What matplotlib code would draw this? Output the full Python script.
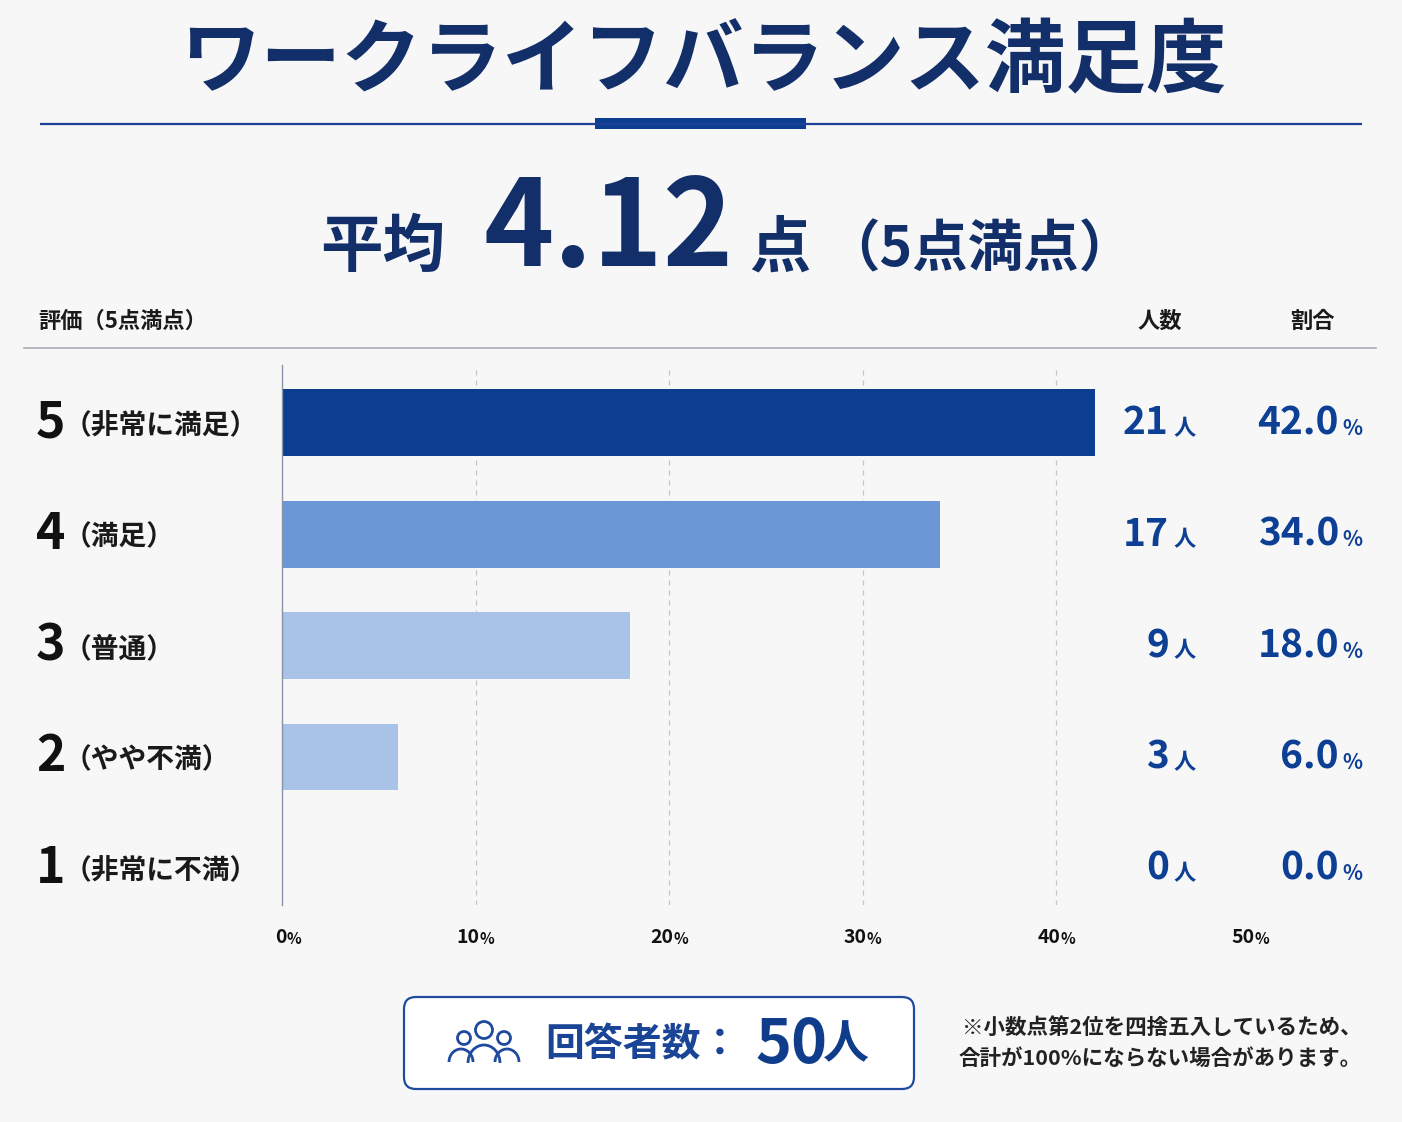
import matplotlib
matplotlib.use("Agg")
import matplotlib.pyplot as plt
from matplotlib.patches import FancyBboxPatch, Circle, Arc, Rectangle
from matplotlib.transforms import blended_transform_factory

plt.rcParams['font.family'] = ['Noto Sans CJK JP', 'DejaVu Sans']

# data
title = "ワークライフバランス満足度"
average = 4.12
scores = ["5", "4", "3", "2", "1"]
score_names = ["（非常に満足）", "（満足）", "（普通）", "（やや不満）", "（非常に不満）"]
counts = [21, 17, 9, 3, 0]
percents = [42.0, 34.0, 18.0, 6.0, 0.0]
x_ticks = [0, 10, 20, 30, 40, 50]
total = 50
note_lines = ["※小数点第2位を四捨五入しているため、", "合計が100%にならない場合があります。"]

# style
bg = '#f7f7f7'
navy = '#132f69'
blue = '#0d3f94'
bar_colors = ['#0b3d91', '#6b97d6', '#a9c2e8', '#a9c2e8', '#a9c2e8']

W, H = 1402, 1122
fig = plt.figure(figsize=(W / 100, H / 100), dpi=100, facecolor=bg)
renderer = fig.canvas.get_renderer()

# full figure layer in pixel coords
deco = fig.add_axes([0, 0, 1, 1], zorder=0)
deco.set_xlim(0, W)
deco.set_ylim(0, H)
deco.axis('off')
deco.patch.set_alpha(0)

def Y(py):
    return H - py

# title and underline
deco.text(W / 2 + 2, Y(62), title, ha='center', va='center', fontsize=58,
          fontweight='bold', color=navy)
deco.plot([40, 1362], [Y(124), Y(124)], color='#1f3f95', lw=1.6, solid_capstyle='butt')
deco.add_patch(Rectangle((595, Y(129)), 211, 11, color='#0b3d91', lw=0))

# average line, laid out piece by piece
pieces = [("平均", 45, 0), (f"{average:.2f}", 86, 38), ("点", 44, 16), ("（5点満点）", 40, 14)]
base = Y(266)
x = 320
for txt, size, gap in pieces:
    x += gap
    t = deco.text(x, base, txt, ha='left', va='baseline', fontsize=size,
                  fontweight='bold', color=navy)
    bb = t.get_window_extent(renderer)
    x += bb.width

# table header
deco.text(38, Y(321), "評価（5点満点）", ha='left', va='center', fontsize=16,
          fontweight='bold', color='#1a1a1a')
deco.text(1160, Y(321), "人数", ha='center', va='center', fontsize=16,
          fontweight='bold', color='#1a1a1a')
deco.text(1312, Y(321), "割合", ha='center', va='center', fontsize=16,
          fontweight='bold', color='#1a1a1a')
deco.plot([24, 1376], [Y(348), Y(348)], color='#a9adb8', lw=1.2)

# bar chart
ax_l, ax_r, ax_t, ax_b = 282, 1250, 365, 905
ax = fig.add_axes([ax_l / W, (H - ax_b) / H, (ax_r - ax_l) / W, (ax_b - ax_t) / H], zorder=1)
ax.patch.set_alpha(0)
idx = list(range(len(scores)))
ax.barh(idx, percents, height=0.6, color=bar_colors, zorder=2)
ax.set_xlim(0, 50)
ax.set_ylim(4.33, -0.52)
for t in x_ticks[1:-1]:
    ax.axvline(t, color='#c4c4c4', lw=0.9, ls=(0, (4, 4)), zorder=1)
for s in ['top', 'right', 'bottom']:
    ax.spines[s].set_visible(False)
ax.spines['left'].set_color('#8a93a8')
ax.spines['left'].set_linewidth(1.0)
ax.set_xticks([])
ax.set_yticks([])

# x tick labels with small percent sign
tr = blended_transform_factory(ax.transData, ax.transAxes)
for t in x_ticks:
    ax.annotate(str(t), (t, -0.061), xycoords=tr, xytext=(3, 0), textcoords='offset points',
                ha='right', va='center', fontsize=14, fontweight='bold', color='#111111')
    ax.annotate("%", (t, -0.061), xycoords=tr, xytext=(3, -1), textcoords='offset points',
                ha='left', va='center', fontsize=11, fontweight='bold', color='#111111')

# row labels, counts and shares
row_tr = blended_transform_factory(deco.transData, ax.transData)
for i in idx:
    deco.text(36, i, scores[i], transform=row_tr, ha='left', va='center', fontsize=36,
              fontweight='bold', color='#111111')
    deco.text(64, i + 0.03, score_names[i], transform=row_tr, ha='left', va='center',
              fontsize=20, fontweight='bold', color='#1a1a1a')
    deco.text(1169, i, str(counts[i]), transform=row_tr, ha='right', va='center',
              fontsize=28, fontweight='bold', color=blue)
    deco.text(1174, i + 0.05, "人", transform=row_tr, ha='left', va='center',
              fontsize=16, fontweight='bold', color=blue)
    deco.text(1339, i, f"{percents[i]:.1f}", transform=row_tr, ha='right', va='center',
              fontsize=28, fontweight='bold', color=blue)
    deco.text(1342, i + 0.05, "%", transform=row_tr, ha='left', va='center',
              fontsize=15, fontweight='bold', color=blue)

# respondents box
deco.add_patch(FancyBboxPatch((404, Y(1089)), 510, 92, boxstyle="round,pad=0,rounding_size=12",
                              facecolor='white', edgecolor='#1f4aa0', lw=1.6))
ic = '#1f4aa0'
deco.add_patch(Circle((484, Y(1030)), 8.5, fill=False, ec=ic, lw=2))
deco.add_patch(Arc((484, Y(1063)), 32, 36, theta1=0, theta2=180, ec=ic, lw=2))
for cx, sgn in [(464, -1), (504, 1)]:
    deco.add_patch(Circle((cx, Y(1038)), 6.5, fill=False, ec=ic, lw=2))
    deco.add_patch(Arc((cx + sgn * 3, Y(1062)), 24, 26, theta1=0, theta2=180, ec=ic, lw=2))
deco.text(545, Y(1045), "回答者数：", ha='left', va='center', fontsize=28,
          fontweight='bold', color='#1a4596')
deco.text(755, Y(1045), f"{total}", ha='left', va='center', fontsize=44,
          fontweight='bold', color='#103c8c')
deco.text(823, Y(1045), "人", ha='left', va='center', fontsize=33,
          fontweight='bold', color='#103c8c')

# note
deco.text(1362, Y(1027), note_lines[0], ha='right', va='center', fontsize=15.5,
          fontweight='bold', color='#222222')
deco.text(1362, Y(1058), note_lines[1], ha='right', va='center', fontsize=15.5,
          fontweight='bold', color='#222222')

fig.savefig("out.png", dpi=100, facecolor=bg)
